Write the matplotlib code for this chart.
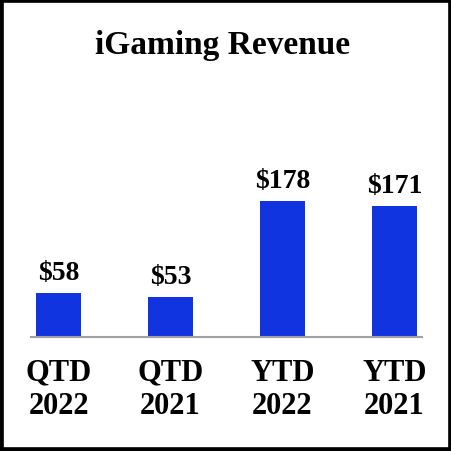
import matplotlib
matplotlib.use('Agg')
import matplotlib.pyplot as plt
from matplotlib.patches import Rectangle

plt.rcParams['font.family'] = ['Liberation Serif', 'DejaVu Serif']

categories = ['QTD\n2022', 'QTD\n2021', 'YTD\n2022', 'YTD\n2021']
revenue = [58, 53, 178, 171]
labels = ['$58', '$53', '$178', '$171']

bar_color = '#1034e0'

fig = plt.figure(figsize=(4.52, 4.52), dpi=100)
ax = fig.add_axes([31 / 452, 114 / 452, 391 / 452, 224 / 452])

x = range(len(categories))
ax.bar(x, revenue, width=0.41, color=bar_color, zorder=2)

for xi, v, lab in zip(x, revenue, labels):
    ax.annotate(lab, (xi, v), xytext=(0, 10), textcoords='offset points',
                ha='center', va='baseline', fontsize=20, fontweight='bold')

ax.set_xlim(-0.246, 3.246)
ax.set_ylim(0, 224 / 0.764)
ax.set_xticks(list(x))
ax.set_xticklabels(categories, fontsize=22, fontweight='bold', linespacing=1.2)
ax.set_yticks([])
ax.tick_params(axis='x', length=0, pad=15)

for side in ['top', 'left', 'right']:
    ax.spines[side].set_visible(False)
ax.spines['bottom'].set_color('#a0a0a0')
ax.spines['bottom'].set_linewidth(1.5)

fig.text(0.492, 1 - 54 / 452, 'iGaming Revenue', ha='center', va='baseline',
         fontsize=24, fontweight='bold')

fig.patches.append(Rectangle((0, 0), 1, 1, transform=fig.transFigure,
                             fill=False, edgecolor='black', linewidth=5.5))

fig.savefig('out.png', dpi=100)
